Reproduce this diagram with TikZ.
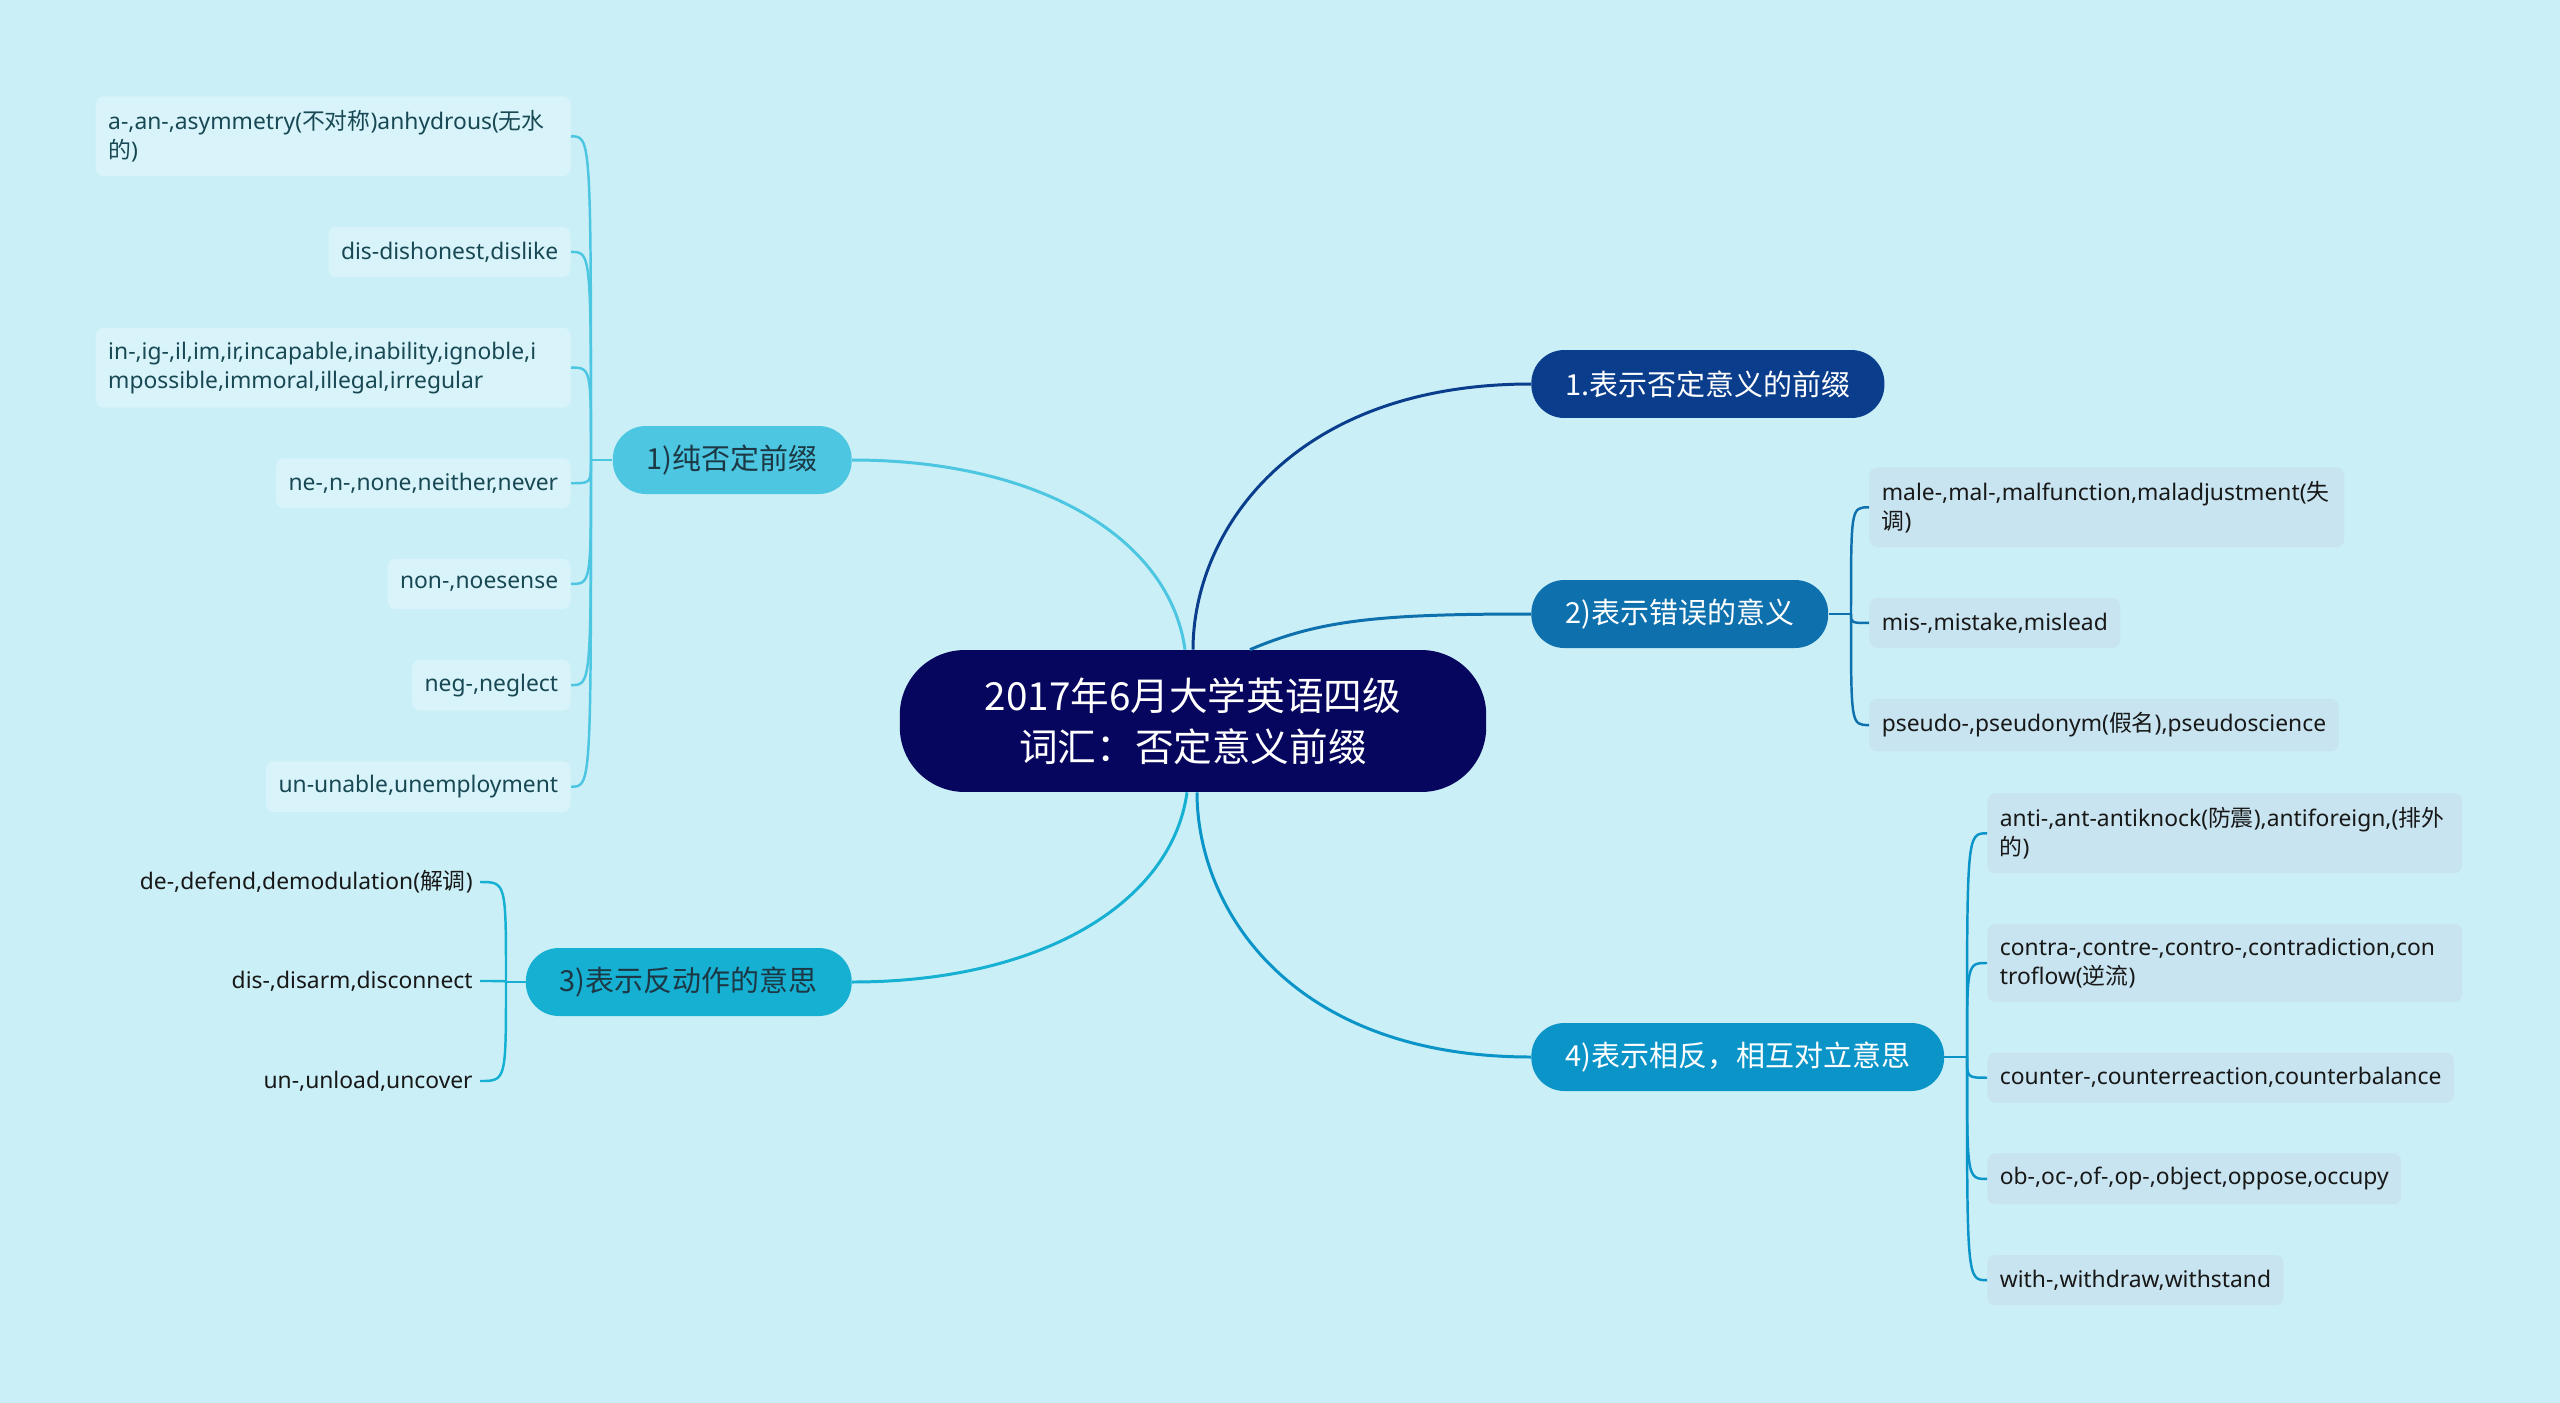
\documentclass[tikz,border=0pt]{standalone}
\usepackage{fontspec}
\setmainfont{Noto Sans}
\newfontfamily\cjk{Noto Sans CJK SC}
\usepackage{xcolor}
\usepackage{tikz}
\usetikzlibrary{positioning}

\definecolor{bgcol}{RGB}{202,239,247}
\definecolor{rootcol}{RGB}{6,6,94}
\definecolor{negcol}{RGB}{10,62,140}
\definecolor{wrongcol}{RGB}{14,112,173}
\definecolor{purecol}{RGB}{76,198,225}
\definecolor{revcol}{RGB}{22,176,211}
\definecolor{oppcol}{RGB}{10,148,200}
\definecolor{leafpale}{RGB}{216,244,250}
\definecolor{leafgrey}{RGB}{200,228,240}
\definecolor{tealtext}{RGB}{24,72,84}
\definecolor{darktext}{RGB}{24,24,24}
\definecolor{slatetext}{RGB}{28,56,68}

\newcommand{\zh}[1]{{\cjk #1}}

\begin{document}
\begin{tikzpicture}[x=0.02cm, y=-0.02cm,
			root/.style={
					rectangle,
					fill=rootcol,
					text=white,
					rounded corners=1.3cm,
					minimum height=2.84cm,
					inner xsep=1.7cm,
					align=center,
					font=\cjk\fontsize{22}{29}\selectfont
				},
			topic/.style={
					rectangle,
					rounded corners=0.66cm,
					minimum height=1.36cm,
					inner xsep=0.68cm,
					font=\cjk\fontsize{16.5}{20}\selectfont
				},
			leaf/.style={
					rectangle,
					rounded corners=0.16cm,
					inner xsep=0.25cm,
					inner ysep=8pt,
					minimum height=1.0cm,
					align=left,
					font=\fontsize{13}{16.5}\selectfont
				},
			leafL/.style={leaf, fill=leafpale, text=tealtext},
			leafR/.style={leaf, fill=leafgrey, text=darktext},
			wide/.style={text width=9cm},
			bare/.style={inner xsep=0.14cm, text=darktext, font=\fontsize{13}{16.5}\selectfont},
			line/.style={draw, line width=1.7pt},
			twig/.style={draw, line width=1.4pt}
		]
		\fill[bgcol] (0,0) rectangle (2560,1403);
		% Place nodes
		\node [root] (root) at (1193,721) {2017年6月大学英语四级\\词汇：否定意义前缀};
		\node [topic, fill=negcol, text=white, anchor=west] (neg) at (1531,384) {1.表示否定意义的前缀};
		\node [topic, fill=wrongcol, text=white, anchor=west] (wrong) at (1531,614) {2)表示错误的意义};
		\node [topic, fill=purecol, text=slatetext, anchor=east] (pure) at (852,460) {1)纯否定前缀};
		\node [topic, fill=revcol, text=slatetext, anchor=east] (reverse) at (852,982) {3)表示反动作的意思};
		\node [topic, fill=oppcol, text=white, anchor=west] (oppose) at (1531,1057) {4)表示相反，相互对立意思};

		\node [leafL, wide, anchor=north east] (pa) at (571,96) {a-,an-,asymmetry(\zh{不对称})anhydrous(\zh{无水}\\\zh{的})};
		\node [leafL, below left=1cm and 0cm of pa.south east] (pb) {dis-dishonest,dislike};
		\node [leafL, wide, below left=1cm and 0cm of pb.south east] (pc) {in-,ig-,il,im,ir,incapable,inability,ignoble,i\\mpossible,immoral,illegal,irregular};
		\node [leafL, below left=1cm and 0cm of pc.south east] (pd) {ne-,n-,none,neither,never};
		\node [leafL, below left=1cm and 0cm of pd.south east] (pe) {non-,noesense};
		\node [leafL, below left=1cm and 0cm of pe.south east] (pf) {neg-,neglect};
		\node [leafL, below left=1cm and 0cm of pf.south east] (pg) {un-unable,unemployment};

		\node [leafR, wide, anchor=north west] (wa) at (1869,467) {male-,mal-,malfunction,maladjustment(\zh{失}\\\zh{调})};
		\node [leafR, below right=1cm and 0cm of wa.south west] (wb) {mis-,mistake,mislead};
		\node [leafR, below right=1cm and 0cm of wb.south west] (wc) {pseudo-,pseudonym(\zh{假名}),pseudoscience};

		\node [bare, anchor=east] (ra) at (480,882) {de-,defend,demodulation(\zh{解调})};
		\node [bare, anchor=east] (rb) at (480,981) {dis-,disarm,disconnect};
		\node [bare, anchor=east] (rc) at (480,1081) {un-,unload,uncover};

		\node [leafR, wide, anchor=north west] (oa) at (1987,793) {anti-,ant-antiknock(\zh{防震}),antiforeign,(\zh{排外}\\\zh{的})};
		\node [leafR, wide, below right=1cm and 0cm of oa.south west] (ob) {contra-,contre-,contro-,contradiction,con\\troflow(\zh{逆流})};
		\node [leafR, below right=1cm and 0cm of ob.south west] (oc) {counter-,counterreaction,counterbalance};
		\node [leafR, below right=1cm and 0cm of oc.south west] (od) {ob-,oc-,of-,op-,object,oppose,occupy};
		\node [leafR, below right=1cm and 0cm of od.south west] (oe) {with-,withdraw,withstand};

		\coordinate (jpure) at (591,460);
		\coordinate (jwrong) at (1851,614);
		\coordinate (jrev) at (506,982);
		\coordinate (jopp) at (1967,1057);
		% Draw edges
		\path [line, draw=negcol] (root.north) .. controls +(0,-117) and +(-240,0) .. (neg.west);
		\path [line, draw=wrongcol] ([xshift=1.14cm]root.north) .. controls +(70,-30) and +(-150,0) .. (wrong.west);
		\path [line, draw=purecol] ([xshift=-0.16cm]root.north) .. controls +(-15,-110) and +(190,0) .. (pure.east);
		\path [line, draw=revcol] ([xshift=-0.12cm]root.south) .. controls +(-15,110) and +(190,0) .. (reverse.east);
		\path [line, draw=oppcol] ([xshift=0.08cm]root.south) .. controls +(0,117) and +(-240,0) .. (oppose.west);

		\path [twig, draw=purecol] (pure.west) -- (jpure);
		\path [twig, draw=purecol] (jpure) .. controls (jpure |- pa.east) .. (pa.east);
		\path [twig, draw=purecol] (jpure) .. controls (jpure |- pb.east) .. (pb.east);
		\path [twig, draw=purecol] (jpure) .. controls (jpure |- pc.east) .. (pc.east);
		\path [twig, draw=purecol] (jpure) .. controls (jpure |- pd.east) .. (pd.east);
		\path [twig, draw=purecol] (jpure) .. controls (jpure |- pe.east) .. (pe.east);
		\path [twig, draw=purecol] (jpure) .. controls (jpure |- pf.east) .. (pf.east);
		\path [twig, draw=purecol] (jpure) .. controls (jpure |- pg.east) .. (pg.east);

		\path [twig, draw=wrongcol] (wrong.east) -- (jwrong);
		\path [twig, draw=wrongcol] (jwrong) .. controls (jwrong |- wa.west) .. (wa.west);
		\path [twig, draw=wrongcol] (jwrong) .. controls (jwrong |- wb.west) .. (wb.west);
		\path [twig, draw=wrongcol] (jwrong) .. controls (jwrong |- wc.west) .. (wc.west);

		\path [twig, draw=revcol] (reverse.west) -- (jrev);
		\path [twig, draw=revcol] (jrev) .. controls (jrev |- ra.east) .. (ra.east);
		\path [twig, draw=revcol] (jrev) .. controls (jrev |- rb.east) .. (rb.east);
		\path [twig, draw=revcol] (jrev) .. controls (jrev |- rc.east) .. (rc.east);

		\path [twig, draw=oppcol] (oppose.east) -- (jopp);
		\path [twig, draw=oppcol] (jopp) .. controls (jopp |- oa.west) .. (oa.west);
		\path [twig, draw=oppcol] (jopp) .. controls (jopp |- ob.west) .. (ob.west);
		\path [twig, draw=oppcol] (jopp) .. controls (jopp |- oc.west) .. (oc.west);
		\path [twig, draw=oppcol] (jopp) .. controls (jopp |- od.west) .. (od.west);
		\path [twig, draw=oppcol] (jopp) .. controls (jopp |- oe.west) .. (oe.west);
	\end{tikzpicture}
\end{document}
